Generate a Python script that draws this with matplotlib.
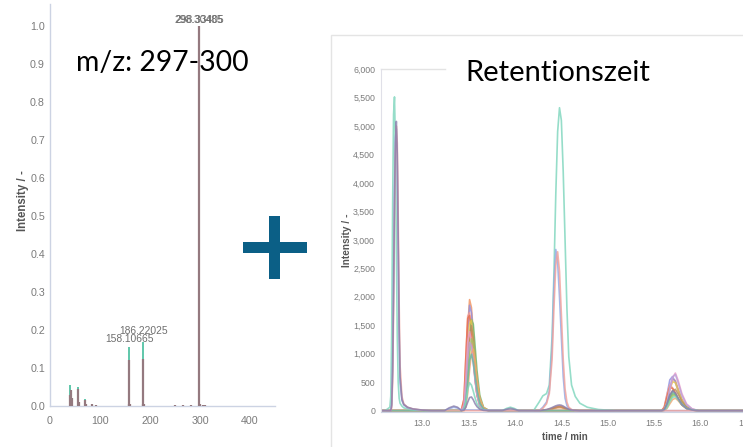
import matplotlib
matplotlib.use("Agg")
import matplotlib.pyplot as plt
from matplotlib.patches import Rectangle
from matplotlib.ticker import FuncFormatter, MultipleLocator

W, H = 743, 447

# ---------------- mass spectrum (m/z 297-300 trace) ----------------
MZ_MINT = [40.0, 42.0, 55.0, 69.0, 158.10665, 186.22025, 298.30485]
INT_MINT = [0.055, 0.040, 0.050, 0.018, 0.155, 0.168, 0.985]

MZ_MAUVE = [39.0, 41.0, 43.0, 55.0, 57.0, 69.0, 71.0, 83.0, 91.0, 157.0,
            158.10665, 159.1, 185.0, 186.22025, 187.2, 250.0, 265.0, 281.0,
            298.33405, 300.3, 305.0, 310.0]
INT_MAUVE = [0.030, 0.042, 0.022, 0.045, 0.010, 0.015, 0.006, 0.004, 0.002, 0.004,
             0.120, 0.006, 0.004, 0.125, 0.006, 0.002, 0.002, 0.002,
             1.000, 0.006, 0.003, 0.002]

MZ_VIOLET = [41.0, 56.0, 158.10665, 186.22025]
INT_VIOLET = [0.035, 0.030, 0.100, 0.110]

PEAK_LABELS = ["158.10665", "186.22025", "298.30485", "298.33405"]
PEAK_MZ = [158.10665, 186.22025, 298.30485, 298.33405]
PEAK_INT = [0.155, 0.168, 1.000, 1.000]

# ---------------- chromatogram ----------------
SERIES = ["mint", "violet", "rose", "sky",
          "orange", "iris", "salmon", "red", "green", "yellow",
          "brown", "pink", "olive", "lavender", "coral", "sea"]
COLORS = ["#7fd6bd", "#8a80ad", "#f2a29b", "#92a9e6",
          "#f2935f", "#9090e0", "#f59a90", "#e8704f", "#6db86d", "#e6c54c",
          "#b88d5e", "#ea9cc9", "#a3c25e", "#bca3da", "#f2a672", "#69baa2"]

T_PEAK1 = [12.60, 12.65, 12.66, 12.67, 12.68, 12.69, 12.70, 12.71, 12.72, 12.73,
           12.74, 12.75, 12.76, 12.78, 12.80, 12.84, 12.90, 13.00, 13.10]
Y_PEAK1 = {
    "mint":   [0, 60, 250, 1400, 3600, 5200, 5510, 4700, 2900, 1300, 500, 220, 130, 80, 50, 30, 15, 5, 0],
    "violet": [0, 0, 0, 100, 700, 2100, 3700, 4700, 5080, 4500, 3000, 1500, 600, 200, 110, 60, 30, 10, 0],
    "rose":   [0, 0, 0, 50, 500, 1700, 3300, 4500, 5000, 4700, 3400, 1900, 800, 250, 120, 60, 30, 10, 0],
    "sky":    [0, 0, 0, 120, 800, 2300, 3900, 4800, 4950, 4300, 2800, 1300, 500, 180, 100, 50, 25, 8, 0],
}

T_BUMP1 = [13.24, 13.29, 13.34, 13.38, 13.41]
Y_BUMP1 = {
    "violet": [0, 50, 80, 60, 20],
    "sky":    [0, 35, 60, 45, 15],
}

T_PEAK2 = [13.42, 13.45, 13.47, 13.49, 13.51, 13.53, 13.55, 13.57, 13.59, 13.62, 13.66, 13.72]
Y_PEAK2 = {
    "mint":     [0, 25, 150, 370, 490, 450, 340, 220, 120, 40, 10, 0],
    "violet":   [0, 10, 60, 150, 230, 240, 190, 120, 70, 25, 5, 0],
    "orange":   [0, 100, 590, 1460, 1950, 1810, 1370, 880, 490, 160, 40, 0],
    "iris":     [0, 90, 560, 1390, 1850, 1720, 1300, 830, 460, 150, 35, 0],
    "salmon":   [0, 210, 960, 1660, 1720, 1400, 960, 560, 280, 90, 20, 0],
    "red":      [0, 200, 940, 1620, 1670, 1360, 940, 540, 270, 85, 15, 0],
    "green":    [0, 15, 170, 640, 1250, 1600, 1520, 1120, 700, 270, 60, 0],
    "yellow":   [0, 50, 350, 960, 1520, 1590, 1260, 850, 500, 170, 40, 0],
    "brown":    [0, 30, 220, 750, 1320, 1490, 1280, 900, 540, 195, 45, 0],
    "pink":     [0, 110, 600, 1200, 1390, 1220, 850, 520, 280, 90, 20, 0],
    "olive":    [0, 10, 130, 500, 990, 1260, 1190, 880, 550, 210, 50, 0],
    "lavender": [0, 60, 360, 900, 1200, 1120, 840, 540, 300, 100, 25, 0],
    "coral":    [0, 0, 65, 310, 720, 1010, 1080, 860, 550, 220, 55, 0],
    "sea":      [0, 20, 150, 500, 880, 990, 850, 600, 360, 130, 30, 0],
}

T_BUMP2 = [13.86, 13.91, 13.95, 13.99, 14.04]
Y_BUMP2 = {
    "mint":   [0, 40, 60, 40, 0],
    "violet": [0, 25, 40, 25, 0],
}

T_PEAK3 = [14.20, 14.26, 14.30, 14.34, 14.37, 14.40, 14.42, 14.44, 14.46, 14.48, 14.50,
           14.52, 14.54, 14.56, 14.58, 14.61, 14.65, 14.70, 14.78, 14.90, 15.10]
Y_PEAK3 = {
    "mint":   [0, 150, 260, 300, 450, 1300, 2400, 3800, 4900, 5320, 5100,
               4200, 3000, 1800, 950, 450, 250, 130, 60, 20, 0],
    "sky":    [0, 0, 60, 150, 350, 1100, 2200, 2830, 2600, 2000, 1300,
               600, 220, 90, 40, 15, 0, 0, 0, 0, 0],
    "rose":   [0, 0, 40, 120, 300, 900, 1800, 2550, 2790, 2450, 1700,
               900, 380, 150, 60, 20, 0, 0, 0, 0, 0],
    "violet": [0, 0, 10, 20, 35, 55, 70, 85, 95, 100, 95,
               80, 60, 40, 25, 12, 5, 0, 0, 0, 0],
    "red":    [0, 0, 5, 15, 25, 40, 55, 65, 75, 80, 75,
               62, 48, 32, 20, 10, 4, 0, 0, 0, 0],
    "brown":  [0, 0, 5, 12, 20, 32, 45, 55, 62, 66, 62,
               52, 40, 27, 17, 8, 3, 0, 0, 0, 0],
    "orange": [0, 0, 4, 10, 16, 26, 36, 44, 50, 52, 50,
               42, 32, 22, 14, 7, 2, 0, 0, 0, 0],
}

T_PEAK4 = [15.58, 15.61, 15.64, 15.67, 15.70, 15.73, 15.76, 15.80, 15.85, 15.91, 15.98]
Y_PEAK4 = {
    "mint":     [0, 6, 55, 160, 235, 248, 195, 110, 42, 12, 0],
    "violet":   [0, 18, 120, 280, 350, 310, 215, 110, 42, 11, 0],
    "orange":   [0, 20, 160, 400, 550, 530, 380, 200, 75, 20, 0],
    "iris":     [0, 50, 280, 540, 600, 500, 350, 180, 65, 18, 0],
    "salmon":   [0, 65, 290, 450, 400, 305, 200, 100, 35, 10, 0],
    "red":      [0, 50, 240, 410, 390, 310, 210, 105, 40, 10, 0],
    "green":    [0, 10, 85, 220, 295, 285, 205, 110, 40, 12, 0],
    "yellow":   [0, 18, 150, 370, 510, 490, 350, 185, 70, 18, 0],
    "brown":    [0, 10, 90, 240, 350, 375, 290, 160, 60, 18, 0],
    "pink":     [0, 13, 120, 360, 580, 660, 530, 300, 120, 33, 0],
    "olive":    [0, 7, 65, 180, 260, 275, 215, 120, 45, 13, 0],
    "lavender": [0, 15, 140, 390, 590, 635, 490, 270, 105, 30, 0],
    "coral":    [0, 4, 40, 120, 195, 220, 175, 100, 40, 11, 0],
    "sea":      [0, 17, 115, 265, 330, 290, 205, 105, 40, 10, 0],
}

WINDOWS = [(T_PEAK1, Y_PEAK1), (T_BUMP1, Y_BUMP1), (T_PEAK2, Y_PEAK2),
           (T_BUMP2, Y_BUMP2), (T_PEAK3, Y_PEAK3), (T_PEAK4, Y_PEAK4)]
T_START, T_END = 12.55, 16.60


def trace(name):
    xs, ys = [T_START], [0]
    for t, table in WINDOWS:
        if name in table:
            xs += t
            ys += table[name]
    xs.append(T_END)
    ys.append(0)
    return xs, ys


def box(x0, y0, x1, y1):
    """pixel box (y measured from the top) -> figure fraction rect"""
    return [x0 / W, 1 - y1 / H, (x1 - x0) / W, (y1 - y0) / H]


plt.rcParams["font.family"] = ["Liberation Sans", "DejaVu Sans"]
fig = plt.figure(figsize=(W / 100, H / 100), dpi=100)
fig.patch.set_facecolor("white")

TICK_C = "#7b7b7b"
TITLE_C = "#555555"
AXIS_C = "#ccd3e3"

# ---------------- left: spectrum ----------------
axL = fig.add_axes(box(50, 4, 275, 406))
axL.vlines(MZ_MINT, 0, INT_MINT, colors="#5fc7aa", lw=1.4, zorder=2)
axL.vlines(MZ_VIOLET, 0, INT_VIOLET, colors="#7f86b8", lw=1.4, zorder=3)
axL.vlines(MZ_MAUVE, 0, INT_MAUVE, colors="#94797f", lw=1.6, zorder=4)
for lab, mz, inten, dx, dy in zip(PEAK_LABELS, PEAK_MZ, PEAK_INT,
                                  [0, 0, -0.5, 0.5], [2.0, 4.5, 0.5, 0.5]):
    axL.annotate(lab, (mz, inten), xytext=(dx, dy), textcoords="offset points",
                 ha="center", va="bottom", fontsize=7.4, color="#6f6f6f")
axL.set_xlim(0, 450)
axL.set_ylim(0, 1.058)
axL.xaxis.set_major_locator(MultipleLocator(100))
axL.yaxis.set_major_locator(MultipleLocator(0.1))
axL.yaxis.set_major_formatter(FuncFormatter(lambda v, p: f"{v:.1f}"))
axL.tick_params(axis="both", length=0, labelsize=7.7, labelcolor=TICK_C)
axL.tick_params(axis="y", pad=3.6)
axL.tick_params(axis="x", pad=7.0)
for s in ("top", "right"):
    axL.spines[s].set_visible(False)
for s in ("left", "bottom"):
    axL.spines[s].set_color(AXIS_C)
    axL.spines[s].set_linewidth(1.0)
axL.set_ylabel("Intensity / -", fontsize=8.3, fontweight="bold", color=TITLE_C)
axL.yaxis.set_label_coords(-0.095, 0.512)

# ---------------- right: chromatogram ----------------
fig.add_artist(Rectangle((331 / W, -0.1), 1.0, 1 - 35 / H + 0.1,
                         transform=fig.transFigure, fill=False,
                         edgecolor="#e4e4e4", lw=1.0, zorder=0))

axR = fig.add_axes(box(381, 69, 750, 411.8))
order = SERIES[4:] + ["mint", "sky", "rose", "violet"]
for name in order:
    xs, ys = trace(name)
    axR.plot(xs, ys, color=COLORS[SERIES.index(name)], lw=1.2, alpha=0.82,
             solid_joinstyle="round")
axR.set_xlim(12.5545, 16.535)
axR.set_ylim(-20, 6000)
axR.axhline(6000, xmin=0, xmax=(445 - 381) / (750 - 381), color="#e3e3e3",
            lw=1.0, clip_on=False)
axR.xaxis.set_major_locator(MultipleLocator(0.5))
axR.xaxis.set_major_formatter(FuncFormatter(lambda v, p: f"{v:.1f}"))
axR.yaxis.set_major_locator(MultipleLocator(500))
axR.yaxis.set_major_formatter(FuncFormatter(lambda v, p: f"{int(round(v)):,}"))
axR.tick_params(axis="both", length=0, labelsize=6.3, labelcolor=TICK_C)
axR.tick_params(axis="y", pad=4.3)
axR.tick_params(axis="x", pad=5.5)
for s in ("top", "right"):
    axR.spines[s].set_visible(False)
axR.spines["left"].set_color("#e0e0e8")
axR.spines["bottom"].set_color(AXIS_C)
axR.set_ylabel("Intensity / -", fontsize=7.3, fontweight="bold", color=TITLE_C)
axR.yaxis.set_label_coords(-0.079, 0.501)
axR.set_xlabel("time / min", fontsize=7.0, fontweight="bold", color=TITLE_C)
axR.xaxis.set_label_coords(0.4986, -0.059)

# ---------------- annotations ----------------
fig.text(76 / W, 1 - 70.7 / H, "m/z: 297-300", fontsize=20.4, family="Lato",
         color="black", ha="left", va="baseline", zorder=10)
fig.text(465.7 / W, 1 - 81 / H, "Retentionszeit", fontsize=21, family="Lato",
         color="black", ha="left", va="baseline", zorder=10)

PLUS_C = "#0b5f86"
fig.add_artist(Rectangle((269.3 / W, 1 - 279.3 / H), 10.7 / W, 63.3 / H,
                         transform=fig.transFigure, color=PLUS_C, lw=0, zorder=10))
fig.add_artist(Rectangle((243.3 / W, 1 - 252.7 / H), 63.4 / W, 10.4 / H,
                         transform=fig.transFigure, color=PLUS_C, lw=0, zorder=10))

fig.savefig("out.png", dpi=100)
